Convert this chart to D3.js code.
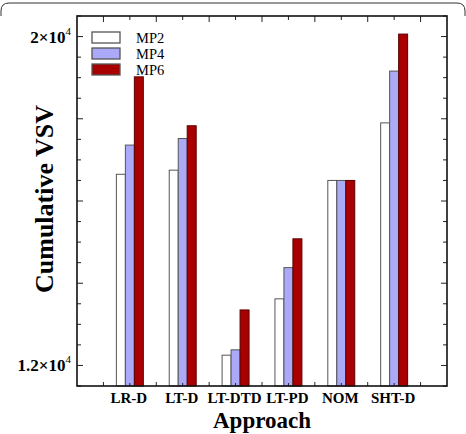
<!DOCTYPE html>
<html>
<head>
<meta charset="utf-8">
<script src="https://cdn.jsdelivr.net/npm/d3@7"></script>
<style>
  body { margin: 0; background: #fff; }
  svg { display: block; font-family: "Liberation Serif", "Times New Roman", serif; }
</style>
</head>
<body>
<div id="chart"></div>
<script>
const approaches = ["LR-D", "LT-D", "LT-DTD", "LT-PD", "NOM", "SHT-D"];
const seriesNames = ["MP2", "MP4", "MP6"];
const mp2 = [16650, 16750, 12250, 13620, 16500, 17900];
const mp4 = [17360, 17520, 12380, 14380, 16500, 19160];
const mp6 = [19020, 17830, 13350, 15080, 16500, 20060];
const yTicksLabelled = [12000, 20000];

const colors = ["#ffffff", "#aaaaf8", "#a80000"];
const seriesValues = [mp2, mp4, mp6];

const W = 466, H = 434;
const margin = { top: 16, right: 19, bottom: 48, left: 77 };
const width = W - margin.left - margin.right,
      height = H - margin.top - margin.bottom;

const svg = d3.select("#chart").append("svg")
  .attr("width", W)
  .attr("height", H);

// outer rounded border (only top visible in reference)
svg.append("path")
  .attr("d", "M1,16 L1,11 Q1,3 9,3 L457,3 Q465,3 465,11 L465,16")
  .attr("fill", "none")
  .attr("stroke", "#333")
  .attr("stroke-width", 1);

const g = svg.append("g")
  .attr("transform", `translate(${margin.left},${margin.top})`);

const x = d3.scaleLinear().domain([0, 7]).range([0, width]);
const y = d3.scaleLinear().domain([11500, 20500]).range([height, 0]);

const barW = x(0.17) - x(0);

// bars
seriesValues.forEach((vals, s) => {
  g.append("g").selectAll("rect")
    .data(vals)
    .enter().append("rect")
    .attr("x", (d, i) => x(i + 1) + (s - 1.5) * barW)
    .attr("y", d => y(d))
    .attr("width", barW)
    .attr("height", d => height - y(d))
    .attr("fill", colors[s])
    .attr("stroke", s === 2 ? "#5a0000" : "#555")
    .attr("stroke-width", 1);
});

// ticks (inward) on all four sides
const minorY = d3.range(11500, 20501, 500);
const majorY = d3.range(12000, 20001, 2000);
const xTicks = d3.range(0.5, 7, 0.5);

g.append("g").selectAll("line")
  .data(minorY)
  .enter().append("line")
  .attr("x1", 0).attr("x2", d => majorY.includes(d) ? 6 : 4)
  .attr("y1", d => y(d)).attr("y2", d => y(d))
  .attr("stroke", "#222");

g.append("g").selectAll("line")
  .data(minorY)
  .enter().append("line")
  .attr("x1", width).attr("x2", d => width - (majorY.includes(d) ? 6 : 4))
  .attr("y1", d => y(d)).attr("y2", d => y(d))
  .attr("stroke", "#222");

g.append("g").selectAll("line")
  .data(xTicks)
  .enter().append("line")
  .attr("x1", d => x(d)).attr("x2", d => x(d))
  .attr("y1", 0).attr("y2", d => d % 1 === 0.5 ? 6 : 4)
  .attr("stroke", "#222");

g.append("g").selectAll("line")
  .data(xTicks)
  .enter().append("line")
  .attr("x1", d => x(d)).attr("x2", d => x(d))
  .attr("y1", height).attr("y2", d => height - (d % 1 === 0.5 ? 4 : 3))
  .attr("stroke", "#223");

// frame
g.append("rect")
  .attr("width", width)
  .attr("height", height)
  .attr("fill", "none")
  .attr("stroke", "#111")
  .attr("stroke-width", 1.6);

// y tick labels
const yl = g.append("g").selectAll("text")
  .data(yTicksLabelled)
  .enter().append("text")
  .attr("x", -6)
  .attr("y", d => y(d) + 6)
  .attr("text-anchor", "end")
  .style("font-size", "17px")
  .style("font-weight", "bold");
yl.append("tspan").text(d => `${d3.format(".1~f")(d / 10000)}×10`.replace(/^2\.0/, "2"));
yl.append("tspan")
  .attr("dy", -8)
  .style("font-size", "11px")
  .style("font-weight", "normal")
  .text("4");

// category labels
g.append("g").selectAll("text")
  .data(approaches)
  .enter().append("text")
  .attr("x", (d, i) => x(i + 1) - 1)
  .attr("y", height + 17)
  .attr("text-anchor", "middle")
  .style("font-size", "15px")
  .style("font-weight", "bold")
  .text(d => d);

// axis titles
g.append("text")
  .attr("x", width / 2)
  .attr("y", height + 42)
  .attr("text-anchor", "middle")
  .style("font-size", "23px")
  .style("font-weight", "bold")
  .text("Approach");

g.append("text")
  .attr("transform", `translate(${53 - margin.left},${199 - margin.top}) rotate(-90)`)
  .attr("text-anchor", "middle")
  .style("font-size", "26px")
  .style("font-weight", "bold")
  .text("Cumulative VSV");

// legend
const legend = g.append("g").attr("transform", "translate(15,16)");
seriesNames.forEach((name, i) => {
  legend.append("rect")
    .attr("x", 0)
    .attr("y", i * 16)
    .attr("width", 28)
    .attr("height", 11)
    .attr("fill", colors[i])
    .attr("stroke", "#555")
    .attr("stroke-width", 1.3);
  legend.append("text")
    .attr("x", 44)
    .attr("y", i * 16 + 11)
    .style("font-size", "14.5px")
    .text(name);
});
</script>
</body>
</html>
